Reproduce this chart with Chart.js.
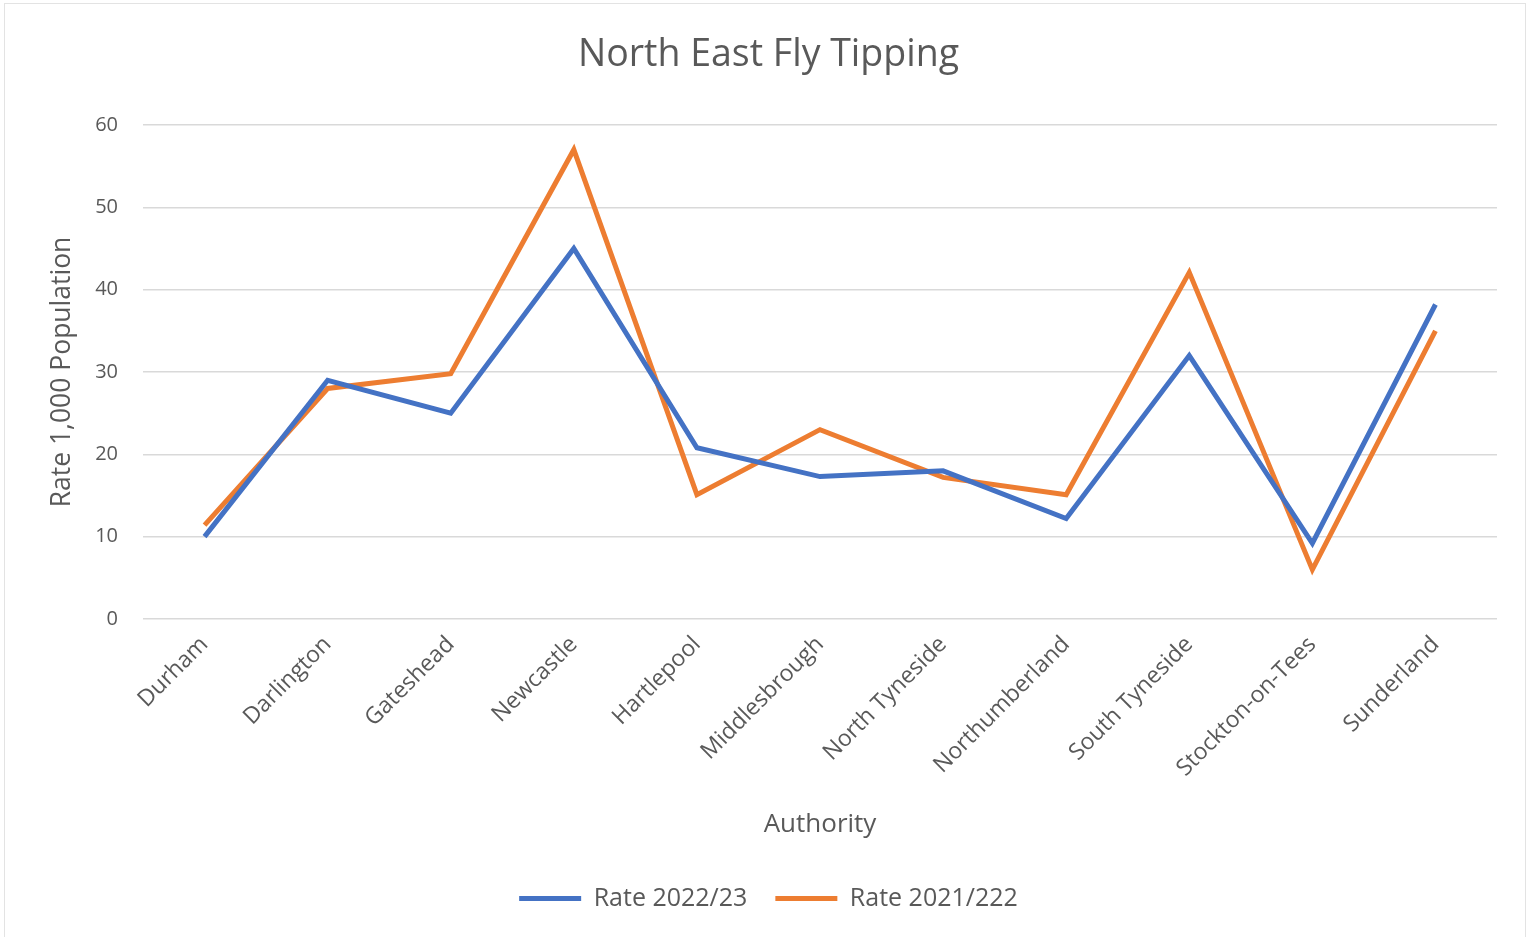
<!DOCTYPE html>
<html>
<head>
<meta charset="utf-8">
<title>North East Fly Tipping</title>
<script src="https://cdn.jsdelivr.net/npm/chart.js@4.4.1/dist/chart.umd.min.js"></script>
<style>
  html, body { margin: 0; padding: 0; background: #fff; }
  #wrap { position: relative; width: 1529px; height: 937px; overflow: hidden; }
  #frame { position: absolute; left: 4px; top: 3px; width: 1520px; height: 960px;
           border: 1px solid #e3e3e3; pointer-events: none; }
  canvas { position: absolute; left: 0; top: 0; }
</style>
</head>
<body>
<div id="wrap">
  <canvas id="myChart" width="1529" height="937"></canvas>
  <div id="frame"></div>
</div>
<script>
const authorities = ["Durham", "Darlington", "Gateshead", "Newcastle", "Hartlepool",
  "Middlesbrough", "North Tyneside", "Northumberland", "South Tyneside",
  "Stockton-on-Tees", "Sunderland"];
const rate2022 = [10, 29, 25, 45, 20.8, 17.3, 18, 12.2, 32, 9.2, 38.2];
const rate2021 = [11.4, 28, 29.8, 57, 15.1, 23, 17.2, 15.1, 42.1, 6, 35];
const yTicks = [0, 10, 20, 30, 40, 50, 60];

const textColor = "#595959";
const gridColor = "#d9d9d9";
const fam = "'Open Sans', Lato, sans-serif";

const ctx = document.getElementById("myChart").getContext("2d");
const myChart = new Chart(ctx, {
  type: "line",
  data: {
    labels: authorities,
    datasets: [
      {
        label: "Rate 2022/23",
        data: rate2022,
        borderColor: "#4472C4",
        backgroundColor: "#4472C4",
        borderWidth: 5,
        pointRadius: 0,
        tension: 0,
        fill: false
      },
      {
        label: "Rate 2021/222",
        data: rate2021,
        borderColor: "#ED7D31",
        backgroundColor: "#ED7D31",
        borderWidth: 5,
        pointRadius: 0,
        tension: 0,
        fill: false
      }
    ]
  },
  options: {
    responsive: false,
    animation: false,
    layout: { padding: { left: 40, right: 32, top: 0, bottom: 16 } },
    plugins: {
      title: {
        display: true,
        text: "North East Fly Tipping",
        color: textColor,
        font: { family: fam, size: 37.5, weight: "normal" },
        padding: { top: 32.5, bottom: 47.5 }
      },
      legend: {
        position: "bottom",
        labels: {
          usePointStyle: true,
          pointStyle: "line",
          pointStyleWidth: 62,
          boxHeight: 20,
          padding: 28,
          color: textColor,
          font: { family: fam, size: 25 }
        }
      },
      tooltip: { enabled: false }
    },
    scales: {
      x: {
        offset: true,
        grid: { display: false, drawTicks: false },
        border: { display: false },
        ticks: {
          color: textColor,
          font: { family: fam, size: 23 },
          minRotation: 45,
          maxRotation: 45,
          autoSkip: false,
          padding: 12
        },
        title: {
          display: true,
          text: "Authority",
          color: textColor,
          font: { family: fam, size: 26 },
          padding: { top: 10, bottom: 18 }
        },
        afterFit: (scale) => { scale.height = 239; }
      },
      y: {
        min: 0,
        max: 60,
        afterBuildTicks: (scale) => { scale.ticks = yTicks.map(v => ({ value: v })); },
        grid: { color: gridColor, lineWidth: 1.5, drawTicks: false },
        border: { display: false },
        ticks: {
          color: textColor,
          font: { family: fam, size: 20 },
          padding: 25
        },
        title: {
          display: true,
          text: "Rate 1,000 Population",
          color: textColor,
          font: { family: fam, size: 26.5 },
          padding: { top: 7, bottom: 0 }
        },
        afterFit: (scale) => { scale.width = 103; }
      }
    }
  }
});
</script>
</body>
</html>
